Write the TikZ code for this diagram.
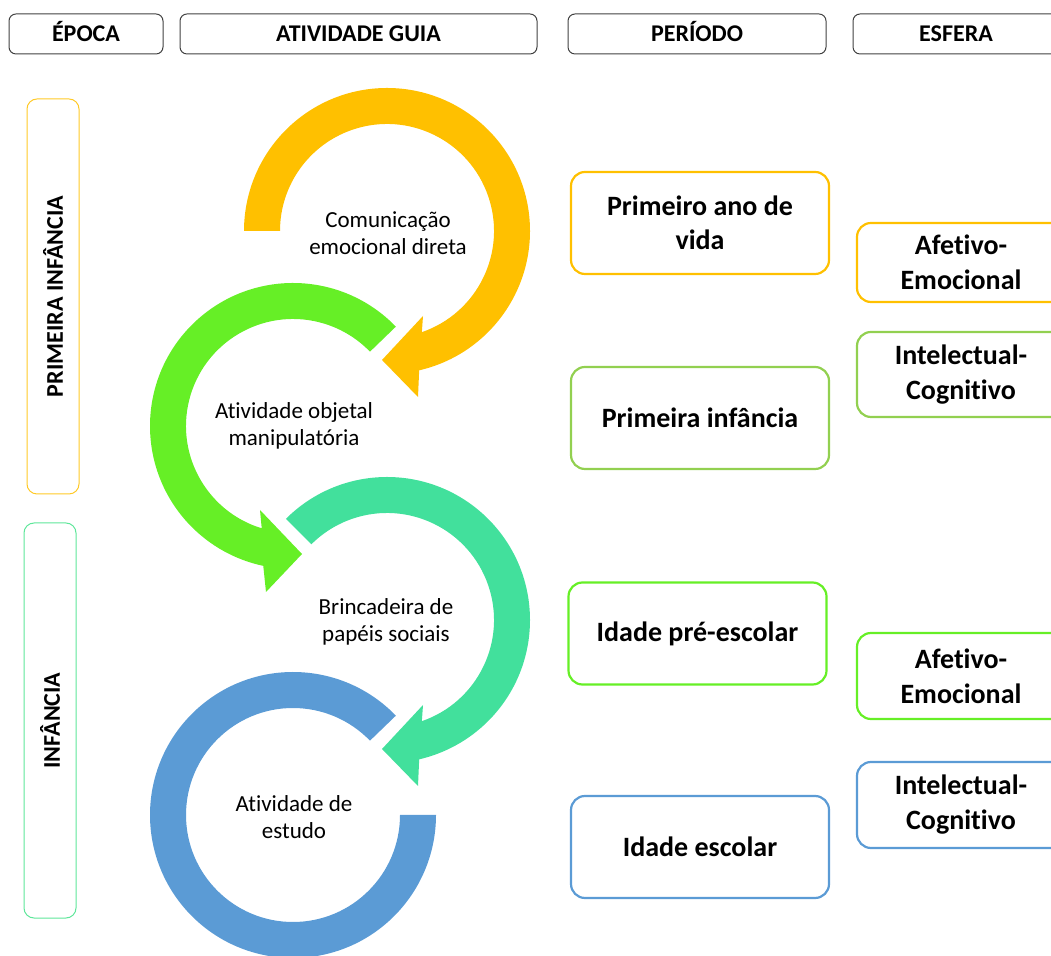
\documentclass[tikz,border=0pt]{standalone}
\usepackage{fontspec}
\setmainfont{Carlito}[RawFeature={-liga;-clig;-calt;-dlig}]
\usetikzlibrary{calc}

\definecolor{amarelo}{HTML}{FFC000}
\definecolor{verde}{HTML}{66EF26}
\definecolor{turquesa}{HTML}{42E09C}
\definecolor{azul}{HTML}{5B9BD5}
\definecolor{verdeclaro}{HTML}{92D050}
\definecolor{menta}{HTML}{5EE69A}

\tikzset{
    cabec/.style={draw=black!75, line width=1pt, rounded corners=7pt, minimum height=40pt, text height=15pt, text depth=0pt, font=\fontsize{24}{28}\selectfont\bfseries},
    periodo/.style={line width=2.2pt, rounded corners=14pt, minimum width=258pt, minimum height=102pt, align=center, font=\fontsize{28}{34}\selectfont\bfseries},
    esfera/.style={line width=2.2pt, rounded corners=14pt, minimum width=208pt, align=center, font=\fontsize{28}{35}\selectfont\bfseries},
    epoca/.style={line width=1pt, rounded corners=10pt, minimum width=395pt, minimum height=52pt, rotate=90, font=\fontsize{24}{28}\selectfont\bfseries},
    rotulo/.style={align=center, font=\fontsize{23}{27}\selectfont}
}

\begin{document}
\begin{tikzpicture}[x=1pt, y=1pt]
        \useasboundingbox (0,0) rectangle (1051,955);
        \clip (0,0) rectangle (1051,955);

        \node[cabec, minimum width=154pt] (epoca) at (86,921) {ÉPOCA};
        \node[cabec, minimum width=357pt] (guia) at (358.5,921) {ATIVIDADE GUIA};
        \node[cabec, minimum width=258pt] (periodo) at (697,921) {PERÍODO};
        \node[cabec, minimum width=206pt] (esfera) at (956,921) {ESFERA};

        \node[epoca, draw=amarelo!85] (primeira) at (53,658.5) {PRIMEIRA INFÂNCIA};
        \node[epoca, draw=menta] (infancia) at (50,234.5) {INFÂNCIA};

        \coordinate (cA) at (387,724);
        \coordinate (cB) at (293,529);
        \coordinate (cC) at (387,335);
        \coordinate (cD) at (293,140);

        \fill[amarelo] ($(cA)+(180:143)$) arc[start angle=180, end angle=-77, radius=143]
            -- ($(cA)+(31,-166)$) -- ($(cA)+(-5,-129)$) -- ($(cA)+(36,-85)$)
            -- ($(cA)+(-71:107)$) arc[start angle=-71, end angle=180, radius=107] -- cycle;
        \fill[verde] ($(cB)+(44:143)$) arc[start angle=44, end angle=258, radius=143]
            -- ($(cB)+(-27,-166)$) -- ($(cB)+(9,-128)$) -- ($(cB)+(-33,-84)$)
            -- ($(cB)+(253:107)$) arc[start angle=253, end angle=44, radius=107] -- cycle;
        \fill[turquesa] ($(cC)+(135:143)$) arc[start angle=135, end angle=-77, radius=143]
            -- ($(cC)+(31,-166)$) -- ($(cC)+(-5,-129)$) -- ($(cC)+(36,-85)$)
            -- ($(cC)+(-71:107)$) arc[start angle=-71, end angle=135, radius=107] -- cycle;
        \fill[azul] ($(cD)+(44:143)$) arc[start angle=44, end angle=360, radius=143]
            -- ($(cD)+(0:107)$) arc[start angle=360, end angle=44, radius=107] -- cycle;

        \node[rotulo] (comunicacao) at ($(cA)+(1,-2)$) {Comunicação\\emocional direta};
        \node[rotulo] (objetal) at ($(cB)+(1,0)$) {At\kern0pt ividade objetal\\manipulatória};
        \node[rotulo] (brincadeira) at ($(cC)+(-1,-2)$) {Brincadeira de\\papéis sociais};
        \node[rotulo] (estudo) at ($(cD)+(1,-2)$) {At\kern0pt ividade de\\estudo};

        \node[periodo, draw=amarelo] (p1) at (700,732) {Primeiro ano de\\vida};
        \node[periodo, draw=verdeclaro] (p2) at (700,537) {Primeira infância};
        \node[periodo, draw=verde] (p3) at (697.5,321.5) {Idade pré-escolar};
        \node[periodo, draw=azul] (p4) at (700,108) {Idade escolar};

        \node[esfera, draw=amarelo, minimum height=79pt] (e1) at (961,692.5) {Afet\kern0pt ivo-\\Emocional};
        \node[esfera, draw=verdeclaro, minimum height=85pt] (e2) at (961,580.5) {Intelectual-\\Cognit\kern0pt ivo};
        \node[esfera, draw=verde, minimum height=86pt] (e3) at (961,279) {Afet\kern0pt ivo-\\Emocional};
        \node[esfera, draw=azul, minimum height=86pt] (e4) at (961,150) {Intelectual-\\Cognit\kern0pt ivo};
    \end{tikzpicture}
\end{document}
